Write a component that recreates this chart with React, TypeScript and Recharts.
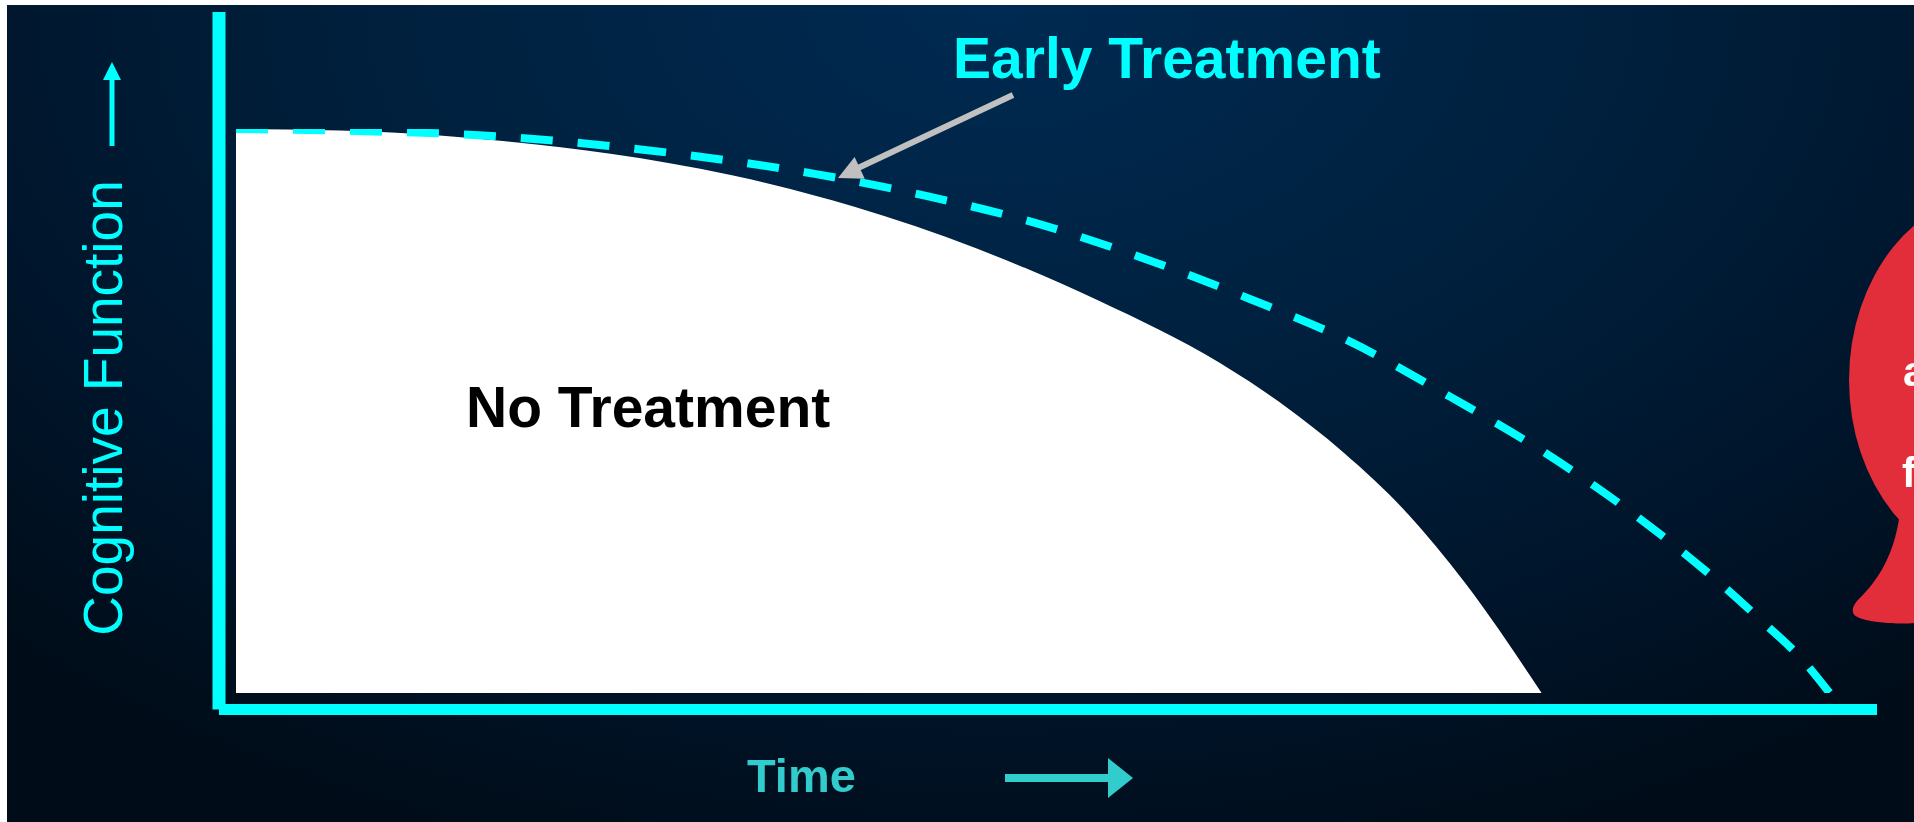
import { ComposedChart, Area, Line, XAxis, YAxis } from 'recharts';

// time axis (arbitrary units 0-100) and cognitive function (0-100)
const noTreatmentTime = [0, 8.1, 15.8, 23.4, 31.0, 38.65, 46.3, 53.9, 61.5, 65.4, 69.2, 73.0, 76.8, 81.6];
const noTreatmentValue = [100, 99.6, 98.1, 95.6, 91.8, 86.2, 78.8, 69.6, 58.5, 51.2, 42.7, 32.5, 19.6, 0];

const earlyTime = [0, 8.1, 15.2, 22.25, 29.25, 36.25, 43.2, 50, 56.7, 63.25, 69.7, 75.9, 81.8, 87.6, 92.9, 95.5, 97.9, 99.6];
const earlyValue = [100, 99.6, 98.9, 97.3, 95.0, 92.0, 88.1, 83.3, 77.1, 70.0, 62.2, 52.5, 42.6, 31.2, 19.1, 12.4, 5.9, 0];

const noTreatment = noTreatmentTime.map((t, i) => ({ t, v: noTreatmentValue[i] }));
const early = earlyTime.map((t, i) => ({ t, v: earlyValue[i] }));

const W = 1907;
const H = 817;
const FONT = '"Liberation Sans", Arial, sans-serif';

export default function App() {
  return (
    <div
      style={{
        position: 'fixed',
        left: 7,
        top: 5,
        width: W,
        height: H,
        overflow: 'hidden',
        background:
          'radial-gradient(ellipse 75% 110% at 52% 0%, #002a52 0%, #00213f 40%, #00152b 75%, #000c18 100%)',
      }}
    >
      <ComposedChart
        width={W}
        height={H}
        margin={{ top: 7, right: 37, left: 152, bottom: 82.5 }}
        style={{ position: 'absolute', left: 0, top: 0 }}
      >
        <XAxis
          type="number"
          dataKey="t"
          domain={[0, 100]}
          allowDataOverflow
          padding={{ left: 17, right: 41 }}
          tick={false}
          tickLine={false}
          axisLine={{ stroke: '#00ffff', strokeWidth: 11 }}
          height={30}
        />
        <YAxis
          type="number"
          domain={[0, 100]}
          allowDataOverflow
          padding={{ top: 117, bottom: 16.5 }}
          tick={false}
          tickLine={false}
          axisLine={{ stroke: '#00ffff', strokeWidth: 13 }}
          width={60}
        />
        <Area
          data={noTreatment}
          dataKey="v"
          type="monotone"
          fill="#ffffff"
          fillOpacity={1}
          stroke="none"
          isAnimationActive={false}
        />
        <Line
          data={early}
          dataKey="v"
          type="monotone"
          stroke="#00ffff"
          strokeWidth={8}
          strokeDasharray="32 25"
          dot={false}
          isAnimationActive={false}
        />
      </ComposedChart>

      {/* slide annotations, page coordinates */}
      <svg
        width={W}
        height={H}
        viewBox={`7 5 ${W} ${H}`}
        style={{ position: 'absolute', left: 0, top: 0, pointerEvents: 'none' }}
      >
        <text
          x={122}
          y={408}
          transform="rotate(-90, 122, 408)"
          textAnchor="middle"
          fontSize={55}
          fontFamily={FONT}
          fill="#00ffff"
        >
          Cognitive Function
        </text>
        <line x1={112} y1={146} x2={112} y2={76} stroke="#00ffff" strokeWidth={5} />
        <polygon points="112,62 103,80 121,80" fill="#00ffff" />

        <text x={953} y={78} fontSize={57} fontWeight="bold" fontFamily={FONT} fill="#00ffff">
          Early Treatment
        </text>
        <line x1={1013} y1={95} x2={858} y2={168} stroke="#c0c0c0" strokeWidth={6} />
        <polygon points="838,178 864.8,178.7 854.6,156.9" fill="#c0c0c0" />

        <text x={466} y={427} fontSize={57} fontWeight="bold" fontFamily={FONT} fill="#000000">
          No Treatment
        </text>

        <text x={747} y={792} fontSize={47} fontWeight="bold" fontFamily={FONT} fill="#33cccc">
          Time
        </text>
        <rect x={1005} y={774} width={104} height={8} fill="#33cccc" />
        <polygon points="1108,758 1133,778 1108,798" fill="#33cccc" />

        <ellipse cx={2000} cy={380} rx={151} ry={188} fill="#e22d3a" />
        <path
          d="M 1900 512 C 1894 562 1872 586 1857 601 Q 1845 616 1866 620 C 1885 624 1905 624 1914 623 L 1914 505 Z"
          fill="#e22d3a"
        />
        <text x={1903} y={386} fontSize={42} fontWeight="bold" fontFamily={FONT} fill="#ffffff">
          a
        </text>
        <text x={1902} y={487} fontSize={42} fontWeight="bold" fontFamily={FONT} fill="#ffffff">
          f
        </text>
      </svg>
    </div>
  );
}
